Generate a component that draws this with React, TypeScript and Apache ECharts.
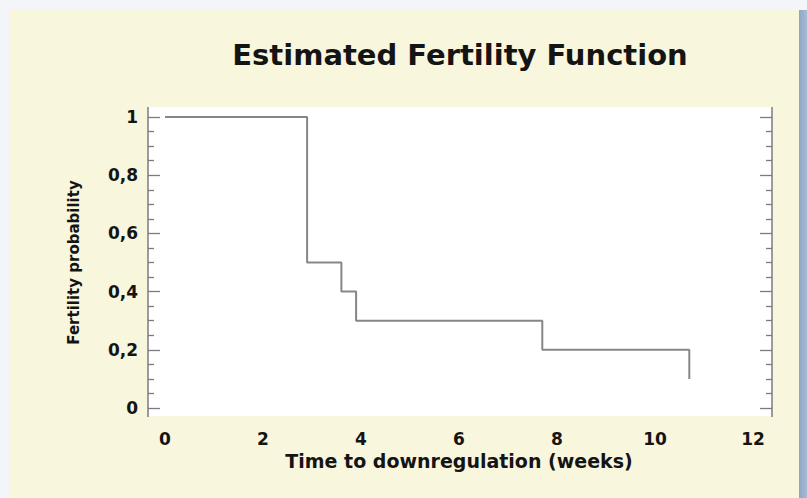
import React, { useEffect, useRef } from "react";
import * as echarts from "echarts";

// ---- data ----
const weeks: number[] = [0, 2.9, 3.6, 3.9, 7.7, 10.7];
const fertility: number[] = [1, 0.5, 0.4, 0.3, 0.2, 0.1];
const xTicks: number[] = [0, 2, 4, 6, 8, 10, 12];
const yTicks: number[] = [0, 0.2, 0.4, 0.6, 0.8, 1];

const TITLE = "Estimated Fertility Function";
const X_NAME = "Time to downregulation (weeks)";
const Y_NAME = "Fertility probability";

const FONT = "'DejaVu Sans', 'Liberation Sans', Arial, sans-serif";
const AXIS_GRAY = "#7c7a80";
const TEXT = "#141414";

const fmtComma = (v: number) => String(+Number(v).toFixed(2)).replace(".", ",");

export default function App() {
  const ref = useRef<HTMLDivElement>(null);

  useEffect(() => {
    if (!ref.current) return;
    const chart = echarts.init(ref.current, undefined, { renderer: "svg" });

    const xMin = xTicks[0];
    const xMax = xTicks[xTicks.length - 1];
    const yMin = yTicks[0];
    const yMax = yTicks[yTicks.length - 1];

    const tickCommon = {
      gridIndex: 1,
      type: "value",
      min: yMin,
      max: yMax,
      interval: 0.2,
      axisLine: { show: false },
      axisTick: { show: true, inside: true, length: 12, lineStyle: { color: AXIS_GRAY, width: 1.3 } },
      minorTick: { show: true, splitNumber: 4, length: 6, lineStyle: { color: AXIS_GRAY, width: 1.3 } },
      splitLine: { show: false },
      minorSplitLine: { show: false },
    };

    chart.setOption({
      animation: false,
      backgroundColor: "#f3f5f9",
      title: {
        text: TITLE,
        left: 460,
        top: 40,
        padding: 0,
        textAlign: "center",
        textStyle: { fontFamily: FONT, fontWeight: "bold", fontSize: 29, color: TEXT },
      },
      graphic: [
        { type: "rect", z: -10, silent: true, shape: { x: 10, y: 10, width: 789, height: 488 }, style: { fill: "#f8f6dd" } },
        {
          type: "rect", z: -10, silent: true, shape: { x: 799, y: 10, width: 8, height: 488 },
          style: {
            fill: new echarts.graphic.LinearGradient(0, 0, 1, 0, [
              { offset: 0, color: "#8ea6c6" },
              { offset: 1, color: "#a9bad3" },
            ]),
          },
        },
        { type: "rect", z: -5, silent: true, shape: { x: 148, y: 107, width: 624, height: 309 }, style: { fill: "#ffffff" } },
        { type: "line", z: 5, silent: true, shape: { x1: 148, y1: 107, x2: 148, y2: 417 }, style: { stroke: AXIS_GRAY, lineWidth: 1.5 } },
        { type: "line", z: 5, silent: true, shape: { x1: 772, y1: 107, x2: 772, y2: 417 }, style: { stroke: AXIS_GRAY, lineWidth: 1.5 } },
      ],
      grid: [
        // data grid: x from 0 to 12
        { left: 165, right: 54, top: 117, bottom: 90, containLabel: false },
        // frame grid: the white plot box's side axes
        { left: 148, right: 35, top: 117, bottom: 90, containLabel: false },
      ],
      xAxis: [
        {
          gridIndex: 0,
          type: "value",
          min: xMin,
          max: xMax,
          interval: 2,
          axisLine: { show: false },
          axisTick: { show: false },
          splitLine: { show: false },
          axisLabel: {
            margin: 22,
            fontFamily: FONT,
            fontWeight: "bold",
            fontSize: 17,
            color: TEXT,
            formatter: (v: number) => fmtComma(v),
          },
          name: X_NAME,
          nameLocation: "middle",
          nameGap: 42,
          nameTextStyle: { fontFamily: FONT, fontWeight: "bold", fontSize: 19, color: TEXT },
        },
        { gridIndex: 1, type: "value", min: 0, max: 1, show: false },
      ],
      yAxis: [
        {
          gridIndex: 0,
          type: "value",
          min: yMin,
          max: yMax,
          interval: 0.2,
          show: false,
        },
        {
          ...tickCommon,
          position: "left",
          axisLabel: {
            margin: 10,
            fontFamily: FONT,
            fontWeight: "bold",
            fontSize: 17,
            color: TEXT,
            formatter: (v: number) => fmtComma(v),
          },
          name: Y_NAME,
          nameLocation: "middle",
          nameGap: 67,
          nameTextStyle: { fontFamily: FONT, fontWeight: "bold", fontSize: 15, color: TEXT },
        },
        {
          ...tickCommon,
          position: "right",
          axisLabel: { show: false },
        },
      ],
      series: [
        {
          type: "line",
          xAxisIndex: 0,
          yAxisIndex: 0,
          step: "end",
          symbol: "none",
          data: weeks.map((w, i) => [w, fertility[i]]),
          lineStyle: { color: "#8a8585", width: 2 },
          z: 3,
        },
      ],
    });

    return () => chart.dispose();
  }, []);

  return (
    <div
      ref={ref}
      style={{ position: "fixed", left: 0, top: 0, width: 807, height: 498 }}
    />
  );
}
